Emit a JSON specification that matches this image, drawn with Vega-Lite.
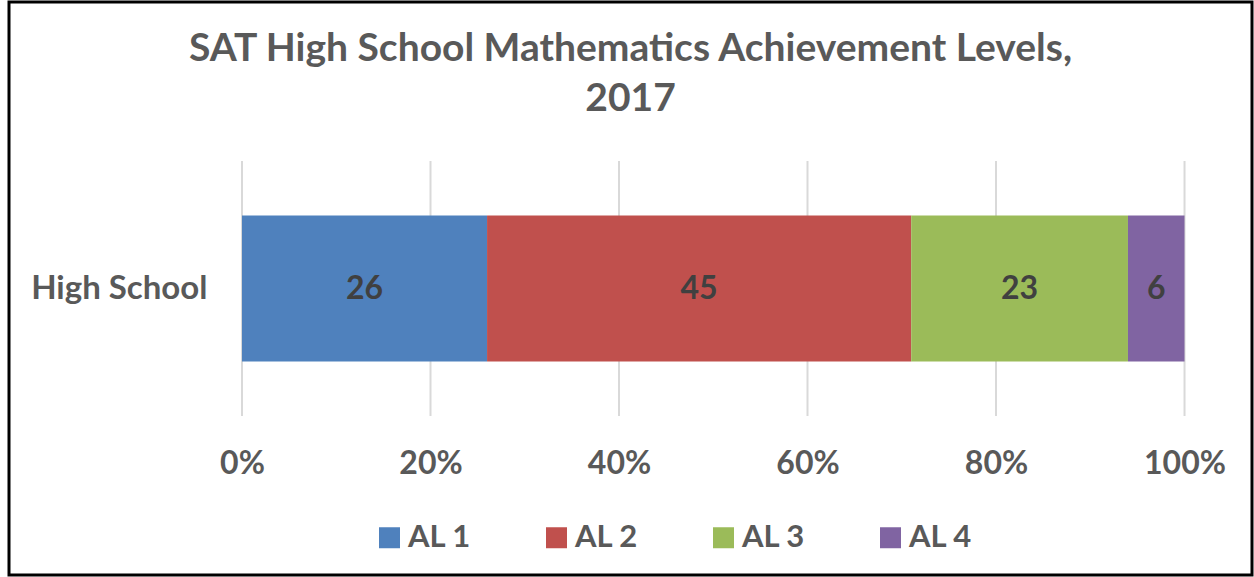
{
  "$schema": "https://vega.github.io/schema/vega-lite/v6.json",
  "width": 1243,
  "height": 573,
  "autosize": {"type": "none"},
  "padding": {"left": 9, "top": 2, "right": 2, "bottom": 2},
  "background": "white",
  "title": {
    "text": ["SAT High School Mathematics Achievement Levels,", "2017"],
    "anchor": "middle",
    "frame": "group",
    "fontSize": 39,
    "font": "Lato",
    "fontWeight": "bold",
    "color": "#595959",
    "lineHeight": 50,
    "baseline": "top",
    "offset": -117
  },
  "datasets": {
    "levels": [
      {"school": "High School", "level": "AL 1", "value": 26},
      {"school": "High School", "level": "AL 2", "value": 45},
      {"school": "High School", "level": "AL 3", "value": 23},
      {"school": "High School", "level": "AL 4", "value": 6}
    ],
    "gridlines": [
      {"tick": 0}, {"tick": 0.2}, {"tick": 0.4}, {"tick": 0.6}, {"tick": 0.8}, {"tick": 1}
    ]
  },
  "layer": [
    {
      "data": {"name": "gridlines"},
      "mark": {"type": "tick", "color": "#d9d9d9", "thickness": 2, "size": 255, "opacity": 1},
      "encoding": {
        "x": {
          "field": "tick",
          "type": "quantitative",
          "scale": {"domain": [-0.2472, 1.0716], "nice": false, "zero": false},
          "axis": {
            "title": null,
            "values": [0, 0.2, 0.4, 0.6, 0.8, 1],
            "format": ".0%",
            "domain": false,
            "ticks": false,
            "grid": false,
            "labelFontSize": 32,
            "labelFontWeight": "bold",
            "labelColor": "#595959",
            "labelPadding": 0,
            "labelBaseline": "alphabetic",
            "offset": -102,
            "labelFlush": false,
            "labelOverlap": false,
            "labelBound": false
          }
        }
      }
    },
    {
      "data": {"name": "levels"},
      "mark": {"type": "bar"},
      "encoding": {
        "y": {
          "field": "school",
          "type": "nominal",
          "scale": {"paddingInner": 0.316, "paddingOuter": 1},
          "axis": {
            "title": null,
            "domain": false,
            "ticks": false,
            "grid": false,
            "labelFontSize": 33,
            "labelFontWeight": "bold",
            "labelColor": "#595959",
            "labelPadding": 0,
            "offset": -198,
            "labelLimit": 0,
            "labelAlign": "right",
            "labelBaseline": "middle"
          }
        },
        "x": {
          "field": "value",
          "type": "quantitative",
          "stack": "normalize",
          "scale": {"domain": [-0.2472, 1.0716], "nice": false, "zero": false},
          "axis": {
            "title": null,
            "values": [0, 0.2, 0.4, 0.6, 0.8, 1],
            "format": ".0%",
            "domain": false,
            "ticks": false,
            "grid": false,
            "labelFontSize": 32,
            "labelFontWeight": "bold",
            "labelColor": "#595959",
            "labelPadding": 0,
            "labelBaseline": "alphabetic",
            "offset": -102,
            "labelFlush": false,
            "labelOverlap": false,
            "labelBound": false
          }
        },
        "order": {"field": "level", "sort": "ascending"},
        "color": {
          "field": "level",
          "type": "nominal",
          "scale": {
            "domain": ["AL 1", "AL 2", "AL 3", "AL 4"],
            "range": ["#4F81BD", "#C0504D", "#9BBB59", "#8064A2"]
          },
          "legend": {
            "title": null,
            "orient": "none",
            "legendX": 365,
            "legendY": 520,
            "direction": "horizontal",
            "symbolType": "square",
            "symbolSize": 441,
            "symbolStrokeWidth": 0,
            "symbolOpacity": 1,
            "labelFontSize": 31,
            "labelFontWeight": "bold",
            "labelColor": "#595959",
            "labelOffset": 3,
            "columnPadding": 69,
            "padding": 0
          }
        }
      }
    },
    {
      "data": {"name": "levels"},
      "mark": {"type": "text", "fontSize": 32, "fontWeight": "bold", "color": "#404040", "align": "center", "baseline": "middle"},
      "encoding": {
        "y": {
          "field": "school",
          "type": "nominal",
          "scale": {"paddingInner": 0.316, "paddingOuter": 1},
          "axis": {
            "title": null,
            "domain": false,
            "ticks": false,
            "grid": false,
            "labelFontSize": 33,
            "labelFontWeight": "bold",
            "labelColor": "#595959",
            "labelPadding": 0,
            "offset": -198,
            "labelLimit": 0,
            "labelAlign": "right",
            "labelBaseline": "middle"
          }
        },
        "x": {
          "field": "value",
          "type": "quantitative",
          "stack": "normalize",
          "bandPosition": 0.5,
          "scale": {"domain": [-0.2472, 1.0716], "nice": false, "zero": false},
          "axis": {
            "title": null,
            "values": [0, 0.2, 0.4, 0.6, 0.8, 1],
            "format": ".0%",
            "domain": false,
            "ticks": false,
            "grid": false,
            "labelFontSize": 32,
            "labelFontWeight": "bold",
            "labelColor": "#595959",
            "labelPadding": 0,
            "labelBaseline": "alphabetic",
            "offset": -102,
            "labelFlush": false,
            "labelOverlap": false,
            "labelBound": false
          }
        },
        "order": {"field": "level", "sort": "ascending"},
        "detail": {"field": "level"},
        "text": {"field": "value", "type": "quantitative"}
      }
    }
  ],
  "config": {
    "font": "Lato",
    "view": {"stroke": "#000000", "strokeWidth": 3, "fill": "white"},
    "axis": {"labelFont": "Lato"},
    "legend": {"labelFont": "Lato"},
    "title": {"font": "Lato"}
  }
}
